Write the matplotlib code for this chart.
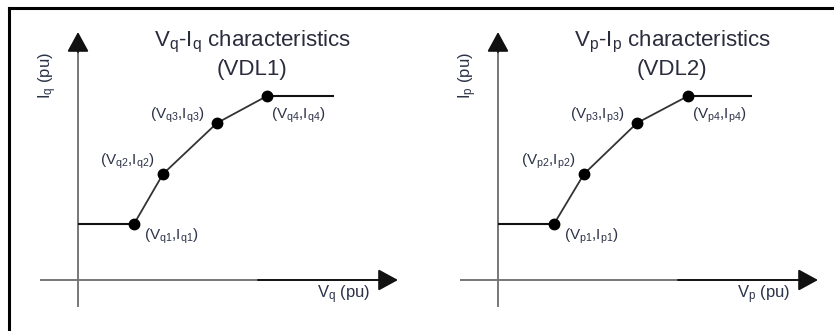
import matplotlib
matplotlib.use("Agg")
import matplotlib.pyplot as plt
from matplotlib.lines import Line2D

plt.rcParams["font.family"] = ["Liberation Sans", "DejaVu Sans"]
plt.rcParams["mathtext.fontset"] = "custom"
plt.rcParams["mathtext.rm"] = "Liberation Sans"
plt.rcParams["mathtext.it"] = "Liberation Sans"
plt.rcParams["mathtext.bf"] = "Liberation Sans:bold"

# Breakpoints of the two voltage-dependent current limit curves (per unit, schematic)
vq_points = [0.28, 0.425, 0.695, 0.945]
iq_points = [0.28, 0.53, 0.785, 0.92]
vp_points = [0.28, 0.43, 0.695, 0.95]
ip_points = [0.28, 0.53, 0.785, 0.92]
vq_end = 1.28
vp_end = 1.27

panels = [
    dict(v=vq_points, i=iq_points, v_end=vq_end, s="q",
         title1=r"$\mathregular{V_q}$-$\mathregular{I_q}$ characteristics",
         title2="(VDL1)",
         xlabel=r"$\mathregular{V_q}$ (pu)", ylabel=r"$\mathregular{I_q}$ (pu)",
         rect=(20, 440)),
    dict(v=vp_points, i=ip_points, v_end=vp_end, s="p",
         title1=r"$\mathregular{V_p}$-$\mathregular{I_p}$ characteristics",
         title2="(VDL2)",
         xlabel=r"$\mathregular{V_p}$ (pu)", ylabel=r"$\mathregular{I_p}$ (pu)",
         rect=(440, 830)),
]

W, H = 834, 331
fig = plt.figure(figsize=(W / 100, H / 100), dpi=100)

text_col = "#2c3348"
title_col = "#2a2c3c"

# label offsets (pixels) relative to each breakpoint, and alignment
label_offsets = [(10, -12, "left"), (-8, 13, "right"), (-12, 8, "right"), (4, -19, "left")]

head = dict(arrowstyle="-|>,head_length=0.55,head_width=0.3", mutation_scale=22,
            lw=1.4, color="#111111", shrinkA=0, shrinkB=0)

for k, p in enumerate(panels):
    x0, x1 = p["rect"]
    # origin of the drawn axes sits 58 px right of the panel's left edge, 280 px from top
    ox = x0 + 58
    oy = 280
    ax = fig.add_axes([x0 / W, (H - 325) / H, (x1 - x0) / W, 310 / H])
    ax.set_xlim((x0 - ox) / 200, (x1 - ox) / 200)
    ax.set_ylim((oy - 325) / 200, (oy - 15) / 200)
    ax.axis("off")

    # coordinate axes: grey shafts, black arrow heads
    ax.plot([-0.19, 0.9], [0, 0], color="#777777", lw=1.4, solid_capstyle="butt")
    ax.annotate("", xy=(1.60, 0), xytext=(0.9, 0), arrowprops=head)
    ax.plot([0, 0], [-0.135, 1.15], color="#777777", lw=1.4, solid_capstyle="butt")
    ax.annotate("", xy=(0, 1.24), xytext=(0, 1.14), arrowprops=head)

    v, i = p["v"], p["i"]
    # flat segments
    ax.plot([0, v[0]], [i[0], i[0]], color="#111111", lw=1.5, solid_capstyle="butt")
    ax.plot([v[-1], p["v_end"]], [i[-1], i[-1]], color="#111111", lw=1.5,
            solid_capstyle="butt")
    # sloped segments with breakpoints
    ax.plot(v, i, color="#333333", lw=1.3, marker="o", markersize=7.5,
            markerfacecolor="black", markeredgecolor="black", zorder=3)

    s = p["s"]
    for n, (vv, ii) in enumerate(zip(v, i)):
        dx, dy, ha = label_offsets[n]
        lab = r"($\mathregular{V_{%s%d}}$,$\mathregular{I_{%s%d}}$)" % (s, n + 1, s, n + 1)
        ax.annotate(lab, xy=(vv, ii), xytext=(dx, dy), textcoords="offset pixels",
                    ha=ha, va="center", fontsize=11, color=text_col)

    ax.text(0.87, 1.19, p["title1"], ha="center", va="center", fontsize=16,
            color=title_col)
    ax.text(0.87, 1.05, p["title2"], ha="center", va="center", fontsize=16,
            color=title_col)
    ax.text(1.33, -0.075, p["xlabel"], ha="center", va="center", fontsize=12,
            color=text_col)
    ax.text(-0.15, 1.02, p["ylabel"], ha="center", va="center", fontsize=12,
            color=text_col, rotation=90)

# outer frame (left and top edges)
fig.add_artist(Line2D([9 / W, 9 / W], [0, (H - 8) / H], transform=fig.transFigure,
                      color="black", lw=2.2))
fig.add_artist(Line2D([9 / W, 1], [(H - 8) / H, (H - 8) / H], transform=fig.transFigure,
                      color="black", lw=2.2))

fig.savefig("out.png", dpi=100, facecolor="white")
